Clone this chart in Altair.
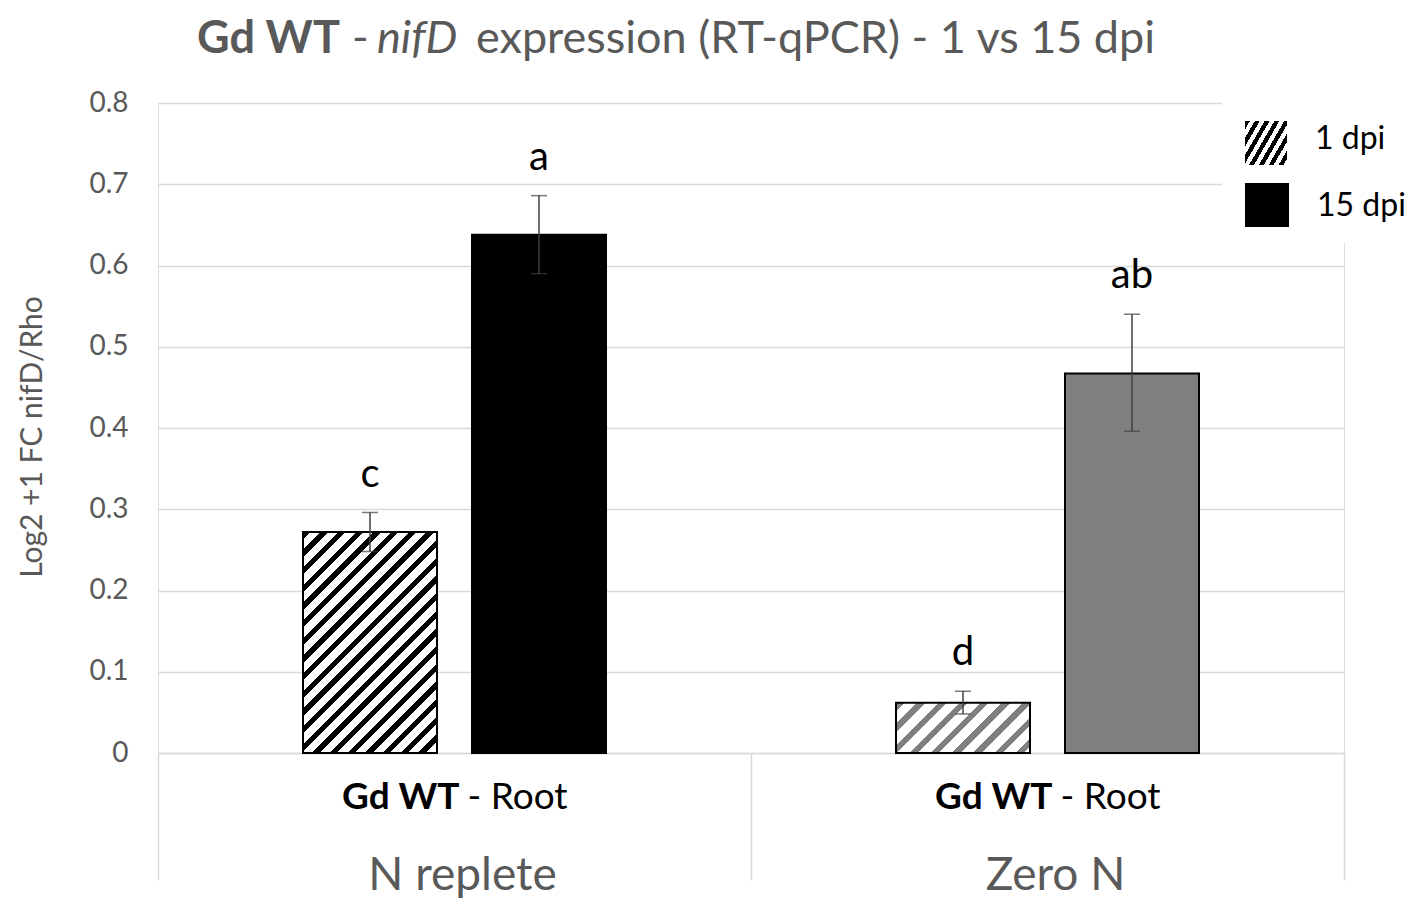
import math
import altair as alt
import pandas as pd

# ---- data ----
groups = ["N replete", "N replete", "Zero N", "Zero N"]
dpis = ["1 dpi", "15 dpi", "1 dpi", "15 dpi"]
means = [0.272, 0.638, 0.062, 0.467]
err_lo = [0.248, 0.590, 0.048, 0.396]
err_hi = [0.296, 0.686, 0.076, 0.540]
letters = ["c", "a", "d", "ab"]
group_order = ["N replete", "Zero N"]
dpi_order = ["1 dpi", "15 dpi"]
y_ticks = [0, 0.1, 0.2, 0.3, 0.4, 0.5, 0.6, 0.7, 0.8]

df = pd.DataFrame({
    "group": groups, "dpi": dpis, "mean": means,
    "lo": err_lo, "hi": err_hi, "letter": letters,
    "idx": list(range(len(groups))),
})

W, H = 1186, 650
YMAX = 0.8
GRAY = "#595959"
GRID = "#d9d9d9"
FONT = "Lato"

# band geometry (used only to shape the hatch gradients)
step = 169.0
bandwidth = 134.0
pad_inner = 35.0 / step
pad_outer = 0.858


def hatch(w, h, alpha_deg, period, frac, color, bg="white"):
    a = math.radians(alpha_deg)
    g0x = math.sin(a) / h
    g0y = math.cos(a) / w
    s = (g0x + g0y) / (g0x ** 2 + g0y ** 2)
    gx, gy = s * g0x, s * g0y
    extent = w * math.sin(a) + h * math.cos(a)
    q = period / extent
    stops = []
    i = 0
    while i * q < 1:
        o = i * q
        o2 = min(1.0, o + frac * q)
        o3 = min(1.0, (i + 1) * q)
        stops += [
            {"offset": o, "color": color},
            {"offset": o2, "color": color},
            {"offset": o2, "color": bg},
            {"offset": o3, "color": bg},
        ]
        i += 1
    return {"gradient": "linear", "x1": 0, "y1": 0, "x2": gx, "y2": gy,
            "stops": stops}


px_per_unit = H / YMAX

x_enc = alt.X("group:N", scale=alt.Scale(domain=group_order, paddingInner=0, paddingOuter=0),
              axis=alt.Axis(title=None, labels=False, tickBand="extent", tickSize=127,
                            tickColor=GRID, tickWidth=1.5, domainColor=GRID, domainWidth=1.5,
                            grid=False))
xo_enc = alt.XOffset("dpi:N", scale=alt.Scale(domain=dpi_order, paddingInner=pad_inner,
                                               paddingOuter=pad_outer))
y_enc = alt.Y("mean:Q", scale=alt.Scale(domain=[0, YMAX], nice=False),
              axis=alt.Axis(title=None, values=y_ticks, domain=False, ticks=False,
                            grid=True, gridColor=GRID, gridWidth=1.5,
                            labelFont=FONT, labelFontSize=28, labelColor=GRAY,
                            labelPadding=30,
                            labelExpr="datum.value == 0 ? '0' : format(datum.value, '.1f')"))

base = alt.Chart(df)

fills = [
    hatch(bandwidth, means[0] * px_per_unit, 45, 12.5, 0.42, "black"),
    "black",
    hatch(bandwidth, means[2] * px_per_unit, 45, 15, 0.40, "#808080"),
    "#7f7f7f",
]

bar_layers = []
for i, f in enumerate(fills):
    bar_layers.append(
        base.transform_filter(alt.datum.idx == i).mark_bar(
            fill=f, stroke="black", strokeWidth=2
        ).encode(x=x_enc, xOffset=xo_enc, y=y_enc)
    )

err_rule = base.mark_rule(color="#404040", strokeWidth=1.5).encode(
    x=alt.X("group:N"), xOffset=alt.XOffset("dpi:N"),
    y=alt.Y("lo:Q"), y2="hi:Q")
cap_lo = base.mark_tick(color="#404040", thickness=1.5, size=16, orient="horizontal").encode(
    x=alt.X("group:N"), xOffset=alt.XOffset("dpi:N"), y=alt.Y("lo:Q"))
cap_hi = base.mark_tick(color="#404040", thickness=1.5, size=16, orient="horizontal").encode(
    x=alt.X("group:N"), xOffset=alt.XOffset("dpi:N"), y=alt.Y("hi:Q"))

letter_text = base.mark_text(font=FONT, fontSize=40, color="black", baseline="alphabetic",
                             dy=-26).encode(
    x=alt.X("group:N"), xOffset=alt.XOffset("dpi:N"), y=alt.Y("hi:Q"), text="letter:N")

gdf = pd.DataFrame({"group": group_order})
gbase = alt.Chart(gdf)
lab_bold = gbase.mark_text(font=FONT, fontSize=37, fontWeight="bold", color="black",
                           align="right", baseline="alphabetic", dx=5).encode(
    x=alt.X("group:N"), y=alt.value(706), text=alt.value("Gd WT"))
lab_root = gbase.mark_text(font=FONT, fontSize=37, color="black",
                           align="left", baseline="alphabetic", dx=13).encode(
    x=alt.X("group:N"), y=alt.value(706), text=alt.value("- Root"))
lab_group = gbase.mark_text(font=FONT, fontSize=46, color=GRAY,
                            align="center", baseline="alphabetic", dx=8).encode(
    x=alt.X("group:N"), y=alt.value(787), text="group:N")

# title segments (mixed bold / italic)
t_y = -50
title_parts = [
    ("Gd WT", 39, "bold", "normal"),
    ("-", 194, "normal", "normal"),
    ("nifD", 219, "normal", "italic"),
    ("expression (RT-qPCR) - 1 vs 15 dpi", 318, "normal", "normal"),
]
title_layers = []
for txt, xp, fw, fs in title_parts:
    title_layers.append(
        alt.Chart(pd.DataFrame({"t": [txt]})).mark_text(
            font=FONT, fontSize=45, fontWeight=fw, fontStyle=fs, color=GRAY,
            align="left", baseline="alphabetic"
        ).encode(x=alt.value(xp), y=alt.value(t_y), text="t:N")
    )

y_title = alt.Chart(pd.DataFrame({"t": ["Log2 +1 FC nifD/Rho"]})).mark_text(
    font=FONT, fontSize=30, color=GRAY, angle=270, align="center", baseline="middle"
).encode(x=alt.value(-125), y=alt.value(334), text="t:N")

# legend (white box over the gridlines, swatches and labels)
legend_bg = alt.Chart(pd.DataFrame({"a": [0]})).mark_rect(fill="white").encode(
    x=alt.value(1064), x2=alt.value(1262), y=alt.value(-12), y2=alt.value(140))
sw1 = alt.Chart(pd.DataFrame({"a": [0]})).mark_rect(
    fill=hatch(42, 44, 60, 8.5, 0.5, "black")).encode(
    x=alt.value(1087), x2=alt.value(1129), y=alt.value(18), y2=alt.value(62))
sw2 = alt.Chart(pd.DataFrame({"a": [0]})).mark_rect(fill="black").encode(
    x=alt.value(1087), x2=alt.value(1131), y=alt.value(80), y2=alt.value(124))
leg1 = alt.Chart(pd.DataFrame({"t": [dpi_order[0]]})).mark_text(
    font=FONT, fontSize=32, color="black", align="left", baseline="middle").encode(
    x=alt.value(1157), y=alt.value(36), text="t:N")
leg2 = alt.Chart(pd.DataFrame({"t": [dpi_order[1]]})).mark_text(
    font=FONT, fontSize=32, color="black", align="left", baseline="middle").encode(
    x=alt.value(1159), y=alt.value(103), text="t:N")

chart = alt.layer(
    *bar_layers, err_rule, cap_lo, cap_hi, letter_text,
    lab_bold, lab_root, lab_group, *title_layers, y_title,
    legend_bg, sw1, sw2, leg1, leg2,
).properties(
    width=W, height=H,
    padding={"left": 150, "top": 95, "right": 64, "bottom": 152},
    autosize=alt.AutoSizeParams(type="none"),
).configure_view(stroke="transparent").configure(background="white")

chart.save("out.html", embed_options={"renderer": "svg", "actions": False})
